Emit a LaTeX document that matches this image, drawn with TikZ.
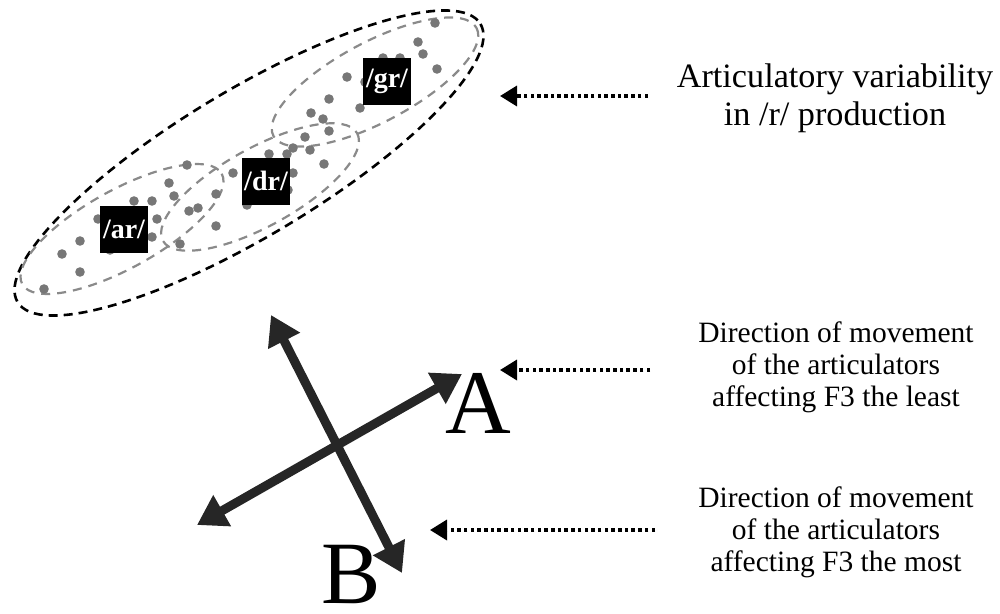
\documentclass[tikz,border=0pt]{standalone}
\usepackage{fontspec}
\setmainfont{Liberation Serif}
\usetikzlibrary{arrows.meta}
\definecolor{dotgray}{HTML}{777777}
\definecolor{ellgray}{HTML}{8A8A8A}
\definecolor{crossgray}{HTML}{262626}
\tikzset{
  outerell/.style={draw=black, line width=2.6pt, dash pattern=on 9pt off 6pt},
  innerell/.style={draw=ellgray, line width=2.2pt, dash pattern=on 9pt off 7pt},
  pt/.style={fill=dotgray},
  lab/.style={fill=black, text=white, font=\bfseries\fontsize{28}{28}\selectfont, minimum width=48pt, minimum height=47pt, inner sep=0pt},
  crossarrow/.style={draw=crossgray, line width=9pt, {Triangle[length=29pt,width=34pt]}-{Triangle[length=29pt,width=34pt]}},
  pointer/.style={draw=black, line width=3.5pt, dash pattern=on 3.5pt off 3.2pt, -{Triangle[length=17pt,width=20pt]}},
  bigletter/.style={font=\fontsize{89}{89}\selectfont, inner sep=0pt, anchor=base},
  caption1/.style={font=\fontsize{34.2}{38}\selectfont, align=center, inner sep=0pt},
  caption2/.style={font=\fontsize{29.5}{32}\selectfont, align=center, inner sep=0pt}
}
\begin{document}
\begin{tikzpicture}[x=1pt, y=-1pt]
\useasboundingbox (0,0) rectangle (1000,613);
% ellipses
\draw[outerell, rotate around={31:(249,163)}] (249,163) ellipse [x radius=270, y radius=73];
\draw[innerell, rotate around={29:(122,229)}] (122,229) ellipse [x radius=114, y radius=39];
\draw[innerell, rotate around={29:(260,187)}] (260,187) ellipse [x radius=111, y radius=39];
\draw[innerell, rotate around={28:(375,82)}] (375,82) ellipse [x radius=115, y radius=40];
% dots
\foreach \p in {(435,23),(418,42),(423,54),(437,69),(347,77),(383,58),(400,58),(365,82),
  (329,99),(360,108),(311,113),(323,119),(329,131),(305,137),(293,148),(310,150),
  (287,154),(269,154),(324,164),(293,173),(233,173),(288,190),(247,205),
  (187,165),(169,183),(174,196),(216,194),(189,211),(198,208),(216,226),(180,244),
  (157,219),(152,237),(134,201),(152,201),(98,219),(80,241),(62,254),(80,272),(44,289),(110,250)}
  \fill[pt] \p circle (4.8);
% labels
\node[lab] (ar) at (124,229) {/ar/};
\node[lab] (dr) at (266,181) {/dr/};
\node[lab] (gr) at (387,81) {/gr/};
% cross
\coordinate (a1) at (197,525);
\coordinate (a2) at (462,374);
\coordinate (b1) at (271,315);
\coordinate (b2) at (402,573);
\draw[crossarrow] (a1) -- (a2);
\draw[crossarrow] (b1) -- (b2);
\node[font=\fontsize{91}{91}\selectfont, inner sep=0pt, anchor=base] (A) at (478,433) {A};
\node[bigletter] (B) at (351,603) {B};
% captions
\node[caption1] (t1) at (835,98) {Articulatory variability\\in /r/ production};
\node[caption2] (t2) at (836,367) {Direction of movement\\of the articulators\\affecting F3 the least};
\node[caption2] (t3) at (836,532) {Direction of movement\\of the articulators\\affecting F3 the most};
% pointers
\coordinate (p1s) at (648,96);
\coordinate (p1e) at (500,96);
\coordinate (p2s) at (650,370);
\coordinate (p2e) at (500,370);
\coordinate (p3s) at (655,530);
\coordinate (p3e) at (430,530);
\draw[pointer] (p1s) -- (p1e);
\draw[pointer] (p2s) -- (p2e);
\draw[pointer] (p3s) -- (p3e);
\end{tikzpicture}
\end{document}
